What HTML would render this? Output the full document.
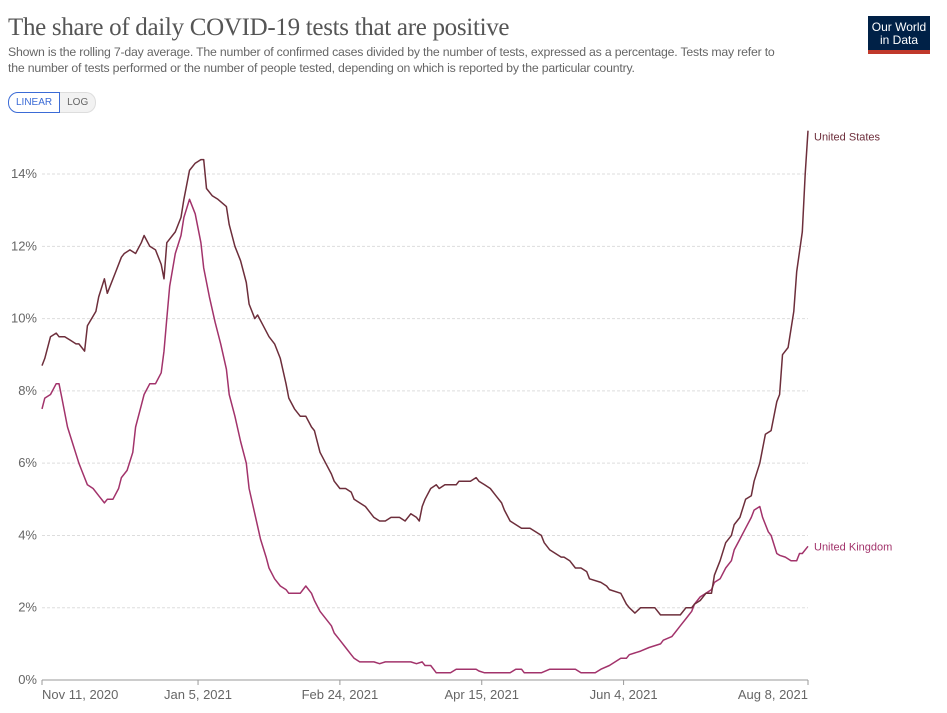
<!DOCTYPE html>
<html><head><meta charset="utf-8"><style>
body{margin:0;width:947px;height:713px;background:#fff;font-family:"Liberation Sans",sans-serif;overflow:hidden;position:relative}
.title{position:absolute;left:8px;top:14px;font-family:"Liberation Serif",serif;font-size:25px;color:#555;letter-spacing:-0.3px}
.sub{position:absolute;left:8px;top:44px;width:784px;font-size:12.3px;line-height:16px;color:#666;letter-spacing:-0.2px}
.btns{position:absolute;left:8px;top:92px;display:flex;font-size:10px}
.btn{padding:4px 7px;border:1px solid #ddd;color:#666;background:#f2f2f2}
.btn.on{border:1px solid #3b6bd6;color:#3b6bd6;background:#fff;border-radius:10px 0 0 10px}
.btn.off{border-radius:0 10px 10px 0;border-left:none}
.logo{position:absolute;left:868px;top:16px;width:62px;height:38px;background:#002147;border-bottom:4px solid #c0392b;color:#fff;font-size:12px;line-height:13px;text-align:center;box-sizing:border-box;padding-top:5px}
</style></head><body>
<div class="title">The share of daily COVID-19 tests that are positive</div>
<div class="sub">Shown is the rolling 7-day average. The number of confirmed cases divided by the number of tests, expressed as a percentage. Tests may refer to the number of tests performed or the number of people tested, depending on which is reported by the particular country.</div>
<div class="btns"><div class="btn on">LINEAR</div><div class="btn off">LOG</div></div>
<div class="logo">Our World<br>in Data</div>
<svg id="chart" width="947" height="713" style="position:absolute;left:0;top:0"></svg>
<script>
const yTicks=[0,2,4,6,8,10,12,14];
const xTickDays=[0,55,105,155,205,270];
const xTickLabels=["Nov 11, 2020","Jan 5, 2021","Feb 24, 2021","Apr 15, 2021","Jun 4, 2021","Aug 8, 2021"];
const usDays=[0,1,3,5,6,8,10,12,13,15,16,19,20,22,23,26,28,29,31,33,35,36,38,40,42,43,44,47,49,50,52,54,56,57,58,60,62,65,66,68,70,72,73,75,76,78,80,82,84,86,87,89,91,93,95,96,98,100,102,103,105,107,109,110,112,114,116,117,119,121,123,124,126,128,130,132,133,134,135,137,139,140,142,146,147,151,153,154,156,158,160,162,163,165,167,169,172,174,176,177,179,181,183,184,186,188,190,192,193,197,199,200,204,206,207,209,211,213,214,216,218,222,225,227,229,230,232,234,236,237,239,241,243,244,246,248,250,251,253,255,257,259,260,261,263,265,266,268,269,270];
const usValues=[8.7,8.9,9.5,9.6,9.5,9.5,9.4,9.3,9.3,9.1,9.8,10.2,10.6,11.1,10.7,11.3,11.7,11.8,11.9,11.8,12.1,12.3,12.0,11.9,11.5,11.1,12.1,12.4,12.8,13.3,14.1,14.3,14.4,14.4,13.6,13.4,13.3,13.1,12.6,12.0,11.6,11.0,10.4,10.0,10.1,9.8,9.5,9.3,8.9,8.2,7.8,7.5,7.3,7.3,7.0,6.9,6.3,6.0,5.7,5.5,5.3,5.3,5.2,5.0,4.9,4.8,4.6,4.5,4.4,4.4,4.5,4.5,4.5,4.4,4.6,4.5,4.4,4.8,5.0,5.3,5.4,5.3,5.4,5.4,5.5,5.5,5.6,5.5,5.4,5.3,5.1,4.9,4.7,4.4,4.3,4.2,4.2,4.1,4.0,3.8,3.6,3.5,3.4,3.4,3.3,3.1,3.1,3.0,2.8,2.7,2.6,2.5,2.4,2.1,2.0,1.85,2.0,2.0,2.0,2.0,1.8,1.8,1.8,2.0,2.0,2.1,2.2,2.4,2.4,2.9,3.3,3.8,4.0,4.3,4.5,5.0,5.1,5.5,6.0,6.8,6.9,7.7,7.9,9.0,9.2,10.2,11.3,12.4,14.0,15.2];
const ukDays=[0,1,3,5,6,7,9,11,13,14,16,18,20,22,23,25,27,28,30,32,33,35,36,38,40,42,43,44,45,47,49,50,52,54,56,57,59,61,63,65,66,68,70,72,73,75,77,79,80,82,84,86,87,91,93,95,96,98,100,102,103,105,107,109,110,112,117,119,121,130,132,134,135,137,139,144,146,153,154,156,165,167,169,170,176,179,188,190,195,197,200,202,204,206,207,211,214,218,219,222,223,225,227,229,230,232,234,236,237,239,241,243,244,246,248,250,251,253,254,256,257,259,260,262,264,266,267,268,270];
const ukValues=[7.5,7.8,7.9,8.2,8.2,7.8,7.0,6.5,6.0,5.8,5.4,5.3,5.1,4.9,5.0,5.0,5.3,5.6,5.8,6.3,7.0,7.6,7.9,8.2,8.2,8.5,9.1,10.0,10.9,11.8,12.3,12.8,13.3,12.9,12.1,11.4,10.6,9.9,9.3,8.6,7.9,7.3,6.6,6.0,5.3,4.6,3.9,3.4,3.1,2.8,2.6,2.5,2.4,2.4,2.6,2.4,2.2,1.9,1.7,1.5,1.3,1.1,0.9,0.7,0.6,0.5,0.5,0.45,0.5,0.5,0.45,0.5,0.4,0.4,0.2,0.2,0.3,0.3,0.25,0.2,0.2,0.3,0.3,0.2,0.2,0.3,0.3,0.2,0.2,0.3,0.4,0.5,0.6,0.6,0.7,0.8,0.9,1.0,1.1,1.2,1.3,1.5,1.7,1.9,2.1,2.3,2.4,2.5,2.7,2.8,3.1,3.3,3.6,3.9,4.2,4.5,4.7,4.8,4.5,4.1,4.0,3.5,3.45,3.4,3.3,3.3,3.5,3.5,3.7];
const NS="http://www.w3.org/2000/svg",svg=document.getElementById('chart');
const X0=42,X1=808,Y0=680,DAYMAX=270;
const xs=d=>X0+d/DAYMAX*(X1-X0);
const ys=v=>Y0-v*36.14;
function mk(t,a){const e=document.createElementNS(NS,t);for(const k in a)e.setAttribute(k,a[k]);svg.appendChild(e);return e;}
yTicks.forEach(v=>{
  if(v>0){const g=mk('line',{x1:X0,x2:X1,y1:ys(v),y2:ys(v),stroke:'#ddd','stroke-dasharray':'3,2'});
  
  }
  const t=mk('text',{x:37,y:ys(v)+4,'text-anchor':'end','font-size':'13',fill:'#666'});t.textContent=v+'%';
  
  
});
const ax=mk('line',{x1:X0,x2:X1,y1:Y0,y2:Y0,stroke:'#999'});


xTickDays.forEach((d,i)=>{
  const tk=mk('line',{x1:xs(d),x2:xs(d),y1:Y0,y2:Y0+5,stroke:'#999'});
  
  
  const anchor=i==0?'start':(i==xTickDays.length-1?'end':'middle');
  const t=mk('text',{x:xs(d),y:Y0+19,'text-anchor':anchor,'font-size':'13',fill:'#666'});t.textContent=xTickLabels[i];
  
  
});
function line(days,vals,color,name){
  const p=mk('path',{d:days.map((d,i)=>(i?'L':'M')+xs(d).toFixed(1)+','+ys(vals[i]).toFixed(1)).join(''),fill:'none',stroke:color,'stroke-width':1.5,'stroke-linejoin':'round'});
  
  
}
line(ukDays,ukValues,'#a2336b','uk-line');
line(usDays,usValues,'#6d2e3b','us-line');
const l1=mk('text',{x:814,y:ys(usValues[usValues.length-1])+10,'font-size':'11',fill:'#6d2e3b'});l1.textContent='United States';


const l2=mk('text',{x:814,y:ys(ukValues[ukValues.length-1])+4,'font-size':'11',fill:'#a2336b'});l2.textContent='United Kingdom';


</script>
</body></html>
